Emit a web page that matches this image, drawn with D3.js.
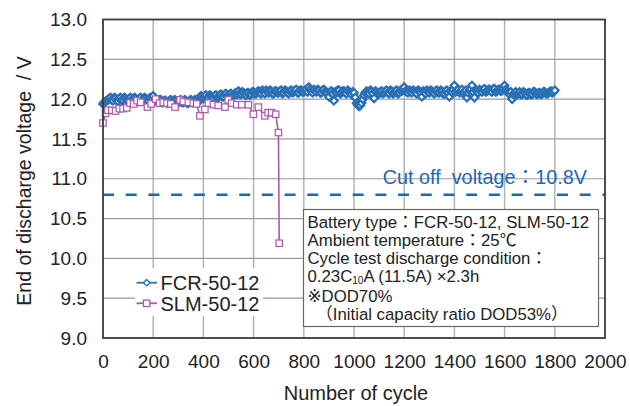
<!DOCTYPE html>
<html>
<head>
<meta charset="utf-8">
<script src="https://cdn.jsdelivr.net/npm/d3@7"></script>
<style>
  body { margin: 0; background: #fff; }
  text { font-family: "Liberation Sans", Arial, "Noto Sans CJK JP", sans-serif; fill: #222; white-space: pre; }
</style>
</head>
<body>
<div id="chart"></div>
<script>
// FCR-50-12, readings at cycles 0, 10, 20 ... 1800
const fcrStep = 10;
const fcrVolts = [
  11.94, 11.97, 11.99, 12.02, 11.98, 12.01, 11.97, 12.02, 11.99, 12.01,
  11.98, 12.02, 11.99, 12.01, 11.97, 12.02, 11.99, 12.01, 11.98, 12.02,
  12.04, 11.99, 11.96, 11.99, 11.96, 11.98, 11.95, 11.99, 11.96, 11.98,
  11.95, 11.99, 11.96, 11.98, 11.95, 11.99, 11.96, 11.98, 11.97, 12.04,
  12.01, 12.05, 12.02, 12.04, 12.01, 12.05, 12.03, 12.06, 12.03, 12.07,
  12.04, 12.07, 12.05, 12.08, 12.10, 12.06, 12.08, 12.05, 12.08, 12.06,
  12.09, 12.07, 12.10, 12.07, 12.09, 12.11, 12.08, 12.10, 12.07, 12.10,
  12.08, 12.11, 12.08, 12.10, 12.07, 12.11, 12.09, 12.12, 12.08, 12.11,
  12.09, 12.12, 12.15, 12.10, 12.12, 12.09, 12.11, 12.08, 12.12, 12.09,
  12.03, 12.10, 11.98, 12.08, 12.11, 12.08, 12.10, 12.07, 12.09, 12.06,
  12.08, 11.95, 11.91, 11.95, 12.05, 12.10, 12.07, 12.10, 12.01, 12.09,
  12.07, 12.10, 12.08, 12.11, 12.07, 12.10, 12.08, 12.11, 12.08, 12.10,
  12.15, 12.09, 12.11, 12.08, 12.10, 12.07, 12.10, 12.03, 12.09, 12.11,
  12.08, 12.10, 12.07, 12.11, 12.08, 12.10, 12.07, 12.11, 12.03, 12.09,
  12.17, 12.11, 12.08, 12.12, 12.09, 12.02, 12.11, 12.17, 12.02, 12.10,
  12.12, 12.09, 12.13, 12.10, 12.12, 12.09, 12.13, 12.10, 12.12, 12.11,
  12.17, 12.10, 12.06, 12.00, 12.08, 12.06, 12.09, 12.06, 12.08, 12.05,
  12.08, 12.06, 12.09, 12.06, 12.08, 12.07, 12.09, 12.07, 12.09, 12.08,
  12.11
];
// FCR-50-12, in-between readings at cycles 5, 15, 25 ... 1795
const fcrMidVolts = [
  11.96, 11.98, 12.01, 11.99, 12.02, 11.98, 12.01, 11.98, 12.02, 11.99,
  12.01, 11.98, 12.02, 11.98, 12.01, 11.98, 12.02, 11.99, 12.01, 12.00,
  11.98, 11.97, 11.99, 11.96, 11.98, 11.95, 11.98, 11.96, 11.99, 11.95,
  11.98, 11.96, 11.99, 11.95, 11.98, 11.96, 11.99, 11.95, 12.02, 12.02,
  12.03, 12.01, 12.05, 12.02, 12.04, 12.01, 12.05, 12.03, 12.06, 12.04,
  12.06, 12.04, 12.07, 12.06, 12.07, 12.09, 12.06, 12.08, 12.05, 12.09,
  12.07, 12.09, 12.08, 12.11, 12.07, 12.09, 12.11, 12.07, 12.10, 12.08,
  12.10, 12.07, 12.11, 12.08, 12.10, 12.08, 12.11, 12.08, 12.11, 12.09,
  12.11, 12.09, 12.12, 12.08, 12.10, 12.12, 12.08, 12.11, 12.09, 12.07,
  12.09, 12.07, 12.09, 12.11, 12.07, 12.10, 12.08, 12.11, 12.08, 12.09,
  12.02, 11.93, 11.92, 12.00, 12.08, 12.08, 12.11, 12.07, 12.10, 12.07,
  12.09, 12.07, 12.10, 12.08, 12.11, 12.07, 12.10, 12.07, 12.11, 12.12,
  12.10, 12.08, 12.10, 12.11, 12.08, 12.11, 12.08, 12.10, 12.07, 12.09,
  12.11, 12.08, 12.10, 12.08, 12.11, 12.07, 12.10, 12.08, 12.10, 12.12,
  12.09, 12.12, 12.10, 12.07, 12.11, 12.08, 12.13, 12.09, 12.11, 12.08,
  12.10, 12.12, 12.09, 12.12, 12.10, 12.13, 12.09, 12.12, 12.10, 12.13,
  12.12, 12.08, 12.09, 12.06, 12.09, 12.07, 12.06, 12.09, 12.06, 12.08,
  12.06, 12.09, 12.07, 12.08, 12.06, 12.09, 12.07, 12.08, 12.10, 12.09
];

// SLM-50-12
const slmCycles = [
  0, 10, 20, 35, 50, 65, 80, 95, 108, 122,
  136, 150, 177, 192, 210, 225, 240, 255, 270, 287,
  307, 320, 340, 360, 373, 386, 406, 420, 440, 459,
  486, 499, 513, 533, 553, 579, 599, 619, 645, 658,
  672, 688, 699, 702
];
const slmVolts = [
  11.70, 11.82, 11.86, 11.86, 11.85, 11.88, 11.88, 11.89, 11.95, 11.94,
  11.98, 11.96, 11.90, 11.94, 12.00, 11.95, 11.96, 11.95, 11.94, 11.90,
  11.99, 11.97, 11.96, 11.95, 11.94, 11.79, 11.87, 11.95, 11.93, 11.92,
  11.90, 11.99, 11.95, 11.93, 11.93, 11.93, 11.81, 11.90, 11.79, 11.83,
  11.83, 11.81, 11.58, 10.19
];

const cutOff = 10.8;
const seriesNames = ["FCR-50-12", "SLM-50-12"];
const xTicks = [0, 200, 400, 600, 800, 1000, 1200, 1400, 1600, 1800, 2000];
const yTicks = [9.0, 9.5, 10.0, 10.5, 11.0, 11.5, 12.0, 12.5, 13.0];
// "|" splits a line into plain / subscript / plain parts
const noteLines = [
  "Battery type：FCR-50-12, SLM-50-12",
  "Ambient temperature：25℃",
  "Cycle test discharge condition：",
  "0.23C|10|A (11.5A) ×2.3h",
  "※DOD70%",
  "（Initial capacity ratio DOD53%）"
];

const blue = "#2870b6", purple = "#aa58aa", cutBlue = "#1c68b8";

const W = 630, H = 406;
const x0 = 103, x1 = 605, yTop = 19.5, yBot = 338;

const svg = d3.select("#chart").append("svg")
  .attr("width", W).attr("height", H);

const x = d3.scaleLinear().domain([0, 2000]).range([x0, x1]);
const y = d3.scaleLinear().domain([9, 13]).range([yBot, yTop]);

// grid
svg.append("g").selectAll("line")
  .data(xTicks.slice(1, -1))
  .join("line")
  .attr("x1", d => x(d)).attr("x2", d => x(d))
  .attr("y1", yTop).attr("y2", yBot)
  .attr("stroke", "#b4b4b4").attr("stroke-width", 1.5);
svg.append("g").selectAll("line")
  .data(yTicks.slice(1, -1))
  .join("line")
  .attr("x1", x0).attr("x2", x1)
  .attr("y1", d => y(d)).attr("y2", d => y(d))
  .attr("stroke", "#9a9a9a").attr("stroke-width", 1.2);

// axes (labels only)
const xAxis = svg.append("g")
  .attr("transform", `translate(0,${yBot})`)
  .call(d3.axisBottom(x).tickValues(xTicks).tickSize(0).tickFormat(d3.format("d")));
xAxis.select(".domain").remove();
xAxis.selectAll("text")
  .attr("y", 30).attr("dy", null)
  .attr("font-size", "19px").attr("fill", "#222")
  .style("font-family", "\"Liberation Sans\", Arial, sans-serif");

const yAxis = svg.append("g")
  .attr("transform", `translate(${x0},0)`)
  .call(d3.axisLeft(y).tickValues(yTicks).tickSize(0).tickPadding(16).tickFormat(d3.format(".1f")));
yAxis.select(".domain").remove();
yAxis.selectAll("text")
  .attr("font-size", "19px").attr("fill", "#222")
  .style("font-family", "\"Liberation Sans\", Arial, sans-serif");

// axis titles
svg.append("text")
  .attr("x", 356).attr("y", 400)
  .attr("text-anchor", "middle")
  .attr("font-size", "20px")
  .text("Number of cycle");
svg.append("text")
  .attr("transform", `translate(31,181) rotate(-90)`)
  .attr("text-anchor", "middle")
  .attr("font-size", "19.5px")
  .text("End of discharge voltage  / V");

// cut off line
svg.append("line")
  .attr("x1", x0).attr("x2", x1)
  .attr("y1", y(cutOff)).attr("y2", y(cutOff))
  .attr("stroke", cutBlue).attr("stroke-width", 2.6)
  .attr("stroke-dasharray", "11,11.7");
svg.append("text")
  .attr("x", 587).attr("y", 184)
  .attr("text-anchor", "end")
  .attr("font-size", "19.8px")
  .style("fill", cutBlue)
  .text("Cut off  voltage：10.8V");

// FCR series: merge both reading sets in cycle order
const fcr = [];
fcrVolts.forEach((v, i) => {
  fcr.push({c: i * fcrStep, v});
  if (i < fcrMidVolts.length) fcr.push({c: i * fcrStep + fcrStep / 2, v: fcrMidVolts[i]});
});
const diamond = "M0,-3.8L3.8,0L0,3.8L-3.8,0Z";
svg.append("path")
  .datum(fcr)
  .attr("fill", "none").attr("stroke", blue).attr("stroke-width", 2)
  .attr("d", d3.line().x(d => x(d.c)).y(d => y(d.v)));
svg.append("g").selectAll("path")
  .data(fcr)
  .join("path")
  .attr("transform", d => `translate(${x(d.c)},${y(d.v)})`)
  .attr("d", diamond)
  .attr("fill", "#fff").attr("stroke", blue).attr("stroke-width", 2.2);

// SLM series
const slm = slmCycles.map((c, i) => ({c, v: slmVolts[i]}));
svg.append("path")
  .datum(slm)
  .attr("fill", "none").attr("stroke", purple).attr("stroke-width", 1.6)
  .attr("d", d3.line().x(d => x(d.c)).y(d => y(d.v)));
svg.append("g").selectAll("rect")
  .data(slm)
  .join("rect")
  .attr("x", d => x(d.c) - 3.2).attr("y", d => y(d.v) - 3.2)
  .attr("width", 6.4).attr("height", 6.4)
  .attr("fill", "#fff").attr("stroke", purple).attr("stroke-width", 1.2);

// frame
svg.append("rect")
  .attr("x", x0).attr("y", yTop)
  .attr("width", x1 - x0).attr("height", yBot - yTop)
  .attr("fill", "none").attr("stroke", "#3a3a3a").attr("stroke-width", 1.8);

// legend
const legend = svg.append("g");
legend.append("rect")
  .attr("x", 135).attr("y", 268).attr("width", 128).attr("height", 48)
  .attr("fill", "#fff");
const legRows = [
  {name: seriesNames[0], color: blue, y: 282.7, shape: "diamond"},
  {name: seriesNames[1], color: purple, y: 303.3, shape: "square"}
];
legRows.forEach(r => {
  legend.append("line")
    .attr("x1", 136.5).attr("x2", 157).attr("y1", r.y).attr("y2", r.y)
    .attr("stroke", r.color).attr("stroke-width", 1.8);
  if (r.shape === "diamond") {
    legend.append("path")
      .attr("transform", `translate(146.7,${r.y})`)
      .attr("d", "M0,-3.2L3.2,0L0,3.2L-3.2,0Z")
      .attr("fill", "#fff").attr("stroke", r.color).attr("stroke-width", 1.3);
  } else {
    legend.append("rect")
      .attr("x", 146.7 - 3.2).attr("y", r.y - 3.2).attr("width", 6.4).attr("height", 6.4)
      .attr("fill", "#fff").attr("stroke", r.color).attr("stroke-width", 1.3);
  }
  legend.append("text")
    .attr("x", 160.5).attr("y", r.y + 7.2)
    .attr("font-size", "20px")
    .text(r.name);
});

// note box
const note = svg.append("g");
note.append("rect")
  .attr("x", 303.5).attr("y", 209.5).attr("width", 295).attr("height", 117)
  .attr("fill", "#fff").attr("stroke", "#6a6a6a").attr("stroke-width", 1.2);
const noteY = [228, 246.2, 264.4, 282, 302, 319.5];
noteLines.forEach((line, i) => {
  const t = note.append("text")
    .attr("x", i === 5 ? 316 : 307.5).attr("y", noteY[i])
    .attr("font-size", "16.8px");
  if (line.includes("|")) {
    const parts = line.split("|");
    t.append("tspan").text(parts[0]);
    t.append("tspan").attr("font-size", "10px").attr("dy", 2).text(parts[1]);
    t.append("tspan").attr("dy", -2).text(parts[2]);
  } else if (line.startsWith("※")) {
    t.append("tspan").style("font-family", "\"DejaVu Sans\", sans-serif").text("※");
    t.append("tspan").text(line.slice(1));
  } else {
    t.text(line);
  }
});
</script>
</body>
</html>
